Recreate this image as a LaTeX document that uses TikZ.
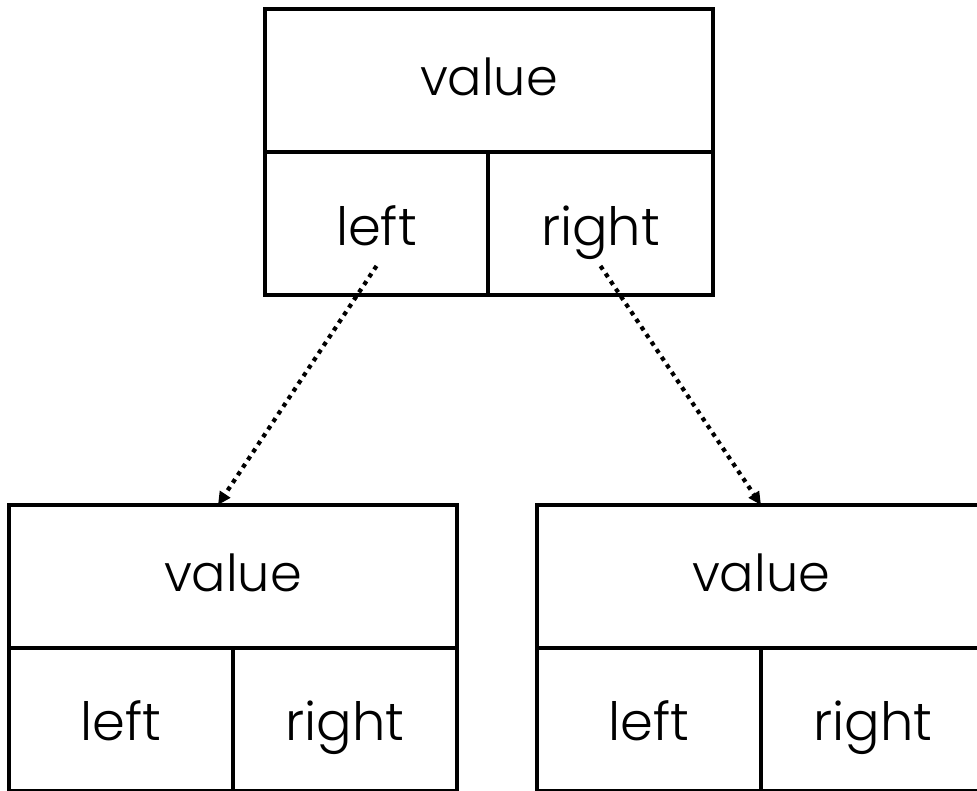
\documentclass[tikz,border=0pt]{standalone}
\usepackage{fontspec}
\setmainfont{Poppins Light}
\usetikzlibrary{positioning,arrows.meta}

\tikzset{
  cell/.style={draw, line width=0.08cm, inner sep=0pt, outer sep=0pt, minimum height=2.86cm},
  valcell/.style={cell, minimum width=8.96cm, font=\fontsize{29}{34}\selectfont, text height=0.9cm, text depth=0.3cm},
  ptrcell/.style={cell, minimum width=4.48cm, font=\fontsize{30}{36}\selectfont, text height=1.1cm, text depth=0.24cm},
  ptr/.style={line width=2.4pt, dash pattern=on 2.4pt off 2.8pt, -{Triangle[length=0.26cm,width=0.24cm]}}
}

\begin{document}
\begin{tikzpicture}
	\useasboundingbox (0,0) rectangle (19.54,15.82);
	% parent
	\node[valcell] (rootval) at (9.78,14.2) {value};
	\node[ptrcell, below right=0cm of rootval.south west, minimum width=4.46cm] (rootleft) {left};
	\node[ptrcell, below left=0cm of rootval.south east, minimum width=4.5cm] (rootright) {right};
	% left child
	\node[valcell] (lval) at (4.66,4.29) {value};
	\node[ptrcell, below right=0cm of lval.south west] (lleft) {left};
	\node[ptrcell, below left=0cm of lval.south east] (lright) {right};
	% right child
	\node[valcell] (rval) at (15.22,4.29) {value};
	\node[ptrcell, below right=0cm of rval.south west] (rleft) {left};
	\node[ptrcell, below left=0cm of rval.south east] (rright) {right};
	% pointers
	\draw[ptr] ([yshift=-0.84cm]rootleft.center) -- ([xshift=-0.3cm]lval.north);
	\draw[ptr] ([yshift=-0.84cm]rootright.center) -- (rval.north);
\end{tikzpicture}
\end{document}
